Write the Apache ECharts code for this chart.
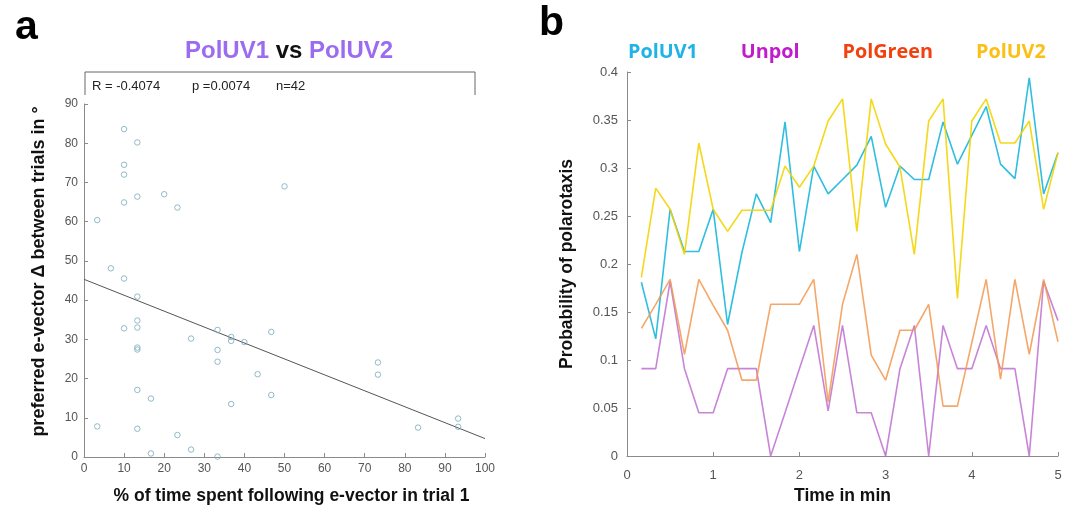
<!DOCTYPE html>
<html>
<head>
<meta charset="utf-8">
<script src="https://cdn.jsdelivr.net/npm/echarts@6/dist/echarts.min.js"></script>
<style>
html,body{margin:0;padding:0;background:#fff;}
#chart{width:1072px;height:510px;}
</style>
</head>
<body>
<div id="chart"></div>
<script>
// ---- Panel a: scatter data (x = % time following e-vector in trial 1, y = delta in degrees)
var scatterX = [10, 13.3, 10, 10, 50, 20, 13.3, 10, 23.3, 3.3,
                6.7, 10, 13.3, 13.3, 10, 13.3, 13.3, 13.3, 26.7, 33.3,
                33.3, 33.3, 36.7, 36.7, 40, 46.7, 43.3, 46.7, 36.7, 73.3,
                73.3, 83.3, 93.3, 93.3, 13.3, 16.7, 3.3, 13.3, 23.3, 26.7,
                16.7, 33.3];
var scatterY = [83.6, 80.2, 74.5, 72, 69, 67, 66.4, 64.9, 63.6, 60.4,
                48.1, 45.5, 40.9, 34.8, 32.8, 33.0, 27.9, 27.4, 30.2, 32.4,
                27.3, 24.3, 30.6, 29.6, 29.3, 31.9, 21.1, 15.8, 13.5, 24.1,
                21.0, 7.5, 9.8, 7.7, 17.1, 14.9, 7.8, 7.2, 5.6, 1.9,
                0.9, 0.1];
var fitX = [0, 100];
var fitY = [45.3, 4.7];
var statsText = ['R = -0.4074', 'p =0.0074', 'n=42'];

// ---- Panel b: time series (probability of polarotaxis)
var timeMin = [0.1667, 0.3333, 0.5, 0.6667, 0.8333, 1.0, 1.1667, 1.3333, 1.5, 1.6667,
               1.8333, 2.0, 2.1667, 2.3333, 2.5, 2.6667, 2.8333, 3.0, 3.1667, 3.3333,
               3.5, 3.6667, 3.8333, 4.0, 4.1667, 4.3333, 4.5, 4.6667, 4.8333, 5.0];
var polUV1 = [0.181, 0.122, 0.257, 0.213, 0.213, 0.257, 0.137, 0.212, 0.273, 0.243,
              0.348, 0.213, 0.302, 0.273, 0.288, 0.303, 0.333, 0.259, 0.302, 0.288,
              0.288, 0.348, 0.304, 0.334, 0.364, 0.304, 0.289, 0.394, 0.273, 0.316];
var unpol = [0.091, 0.091, 0.182, 0.091, 0.045, 0.045, 0.091, 0.091, 0.091, 0.0,
             0.045, 0.091, 0.136, 0.047, 0.136, 0.045, 0.045, 0.0, 0.091, 0.136,
             0.0, 0.136, 0.091, 0.091, 0.136, 0.091, 0.091, 0.0, 0.182, 0.141];
var polGreen = [0.133, 0.158, 0.184, 0.106, 0.184, 0.157, 0.131, 0.079, 0.079, 0.158,
                0.158, 0.158, 0.184, 0.056, 0.158, 0.210, 0.105, 0.079, 0.131, 0.131,
                0.158, 0.052, 0.052, 0.118, 0.184, 0.080, 0.184, 0.106, 0.184, 0.119];
var polUV2 = [0.186, 0.279, 0.257, 0.210, 0.326, 0.257, 0.234, 0.256, 0.256, 0.256,
              0.302, 0.280, 0.302, 0.349, 0.372, 0.234, 0.372, 0.325, 0.301, 0.210,
              0.349, 0.372, 0.164, 0.349, 0.372, 0.326, 0.326, 0.349, 0.257, 0.316];
var seriesNames = ['PolUV1', 'Unpol', 'PolGreen', 'PolUV2'];
var titleParts = ['PolUV1', 'vs', 'PolUV2'];

function pairs(xs, ys) { return xs.map(function (x, i) { return [x, ys[i]]; }); }

var axisGray = '#8a8a8a';
var tickLabelStyle = { color: '#555', fontSize: 12, fontFamily: 'Liberation Sans' };
var nameStyle = { color: '#111', fontSize: 17.5, fontWeight: 'bold', fontFamily: 'Liberation Sans' };
var legendColors = ['#1fb3e6', '#c11ccb', '#f2400f', '#fbbf16'];

var chart = echarts.init(document.getElementById('chart'), null, { renderer: 'canvas' });

var option = {
  backgroundColor: '#fff',
  animation: false,
  title: {
    text: '{p|' + titleParts[0] + '} {k|' + titleParts[1] + '} {p|' + titleParts[2] + '}',
    left: 180, top: 34,
    textStyle: {
      fontSize: 24, fontWeight: 'bold', fontFamily: 'Liberation Sans',
      rich: {
        p: { fontSize: 24, fontWeight: 'bold', fontFamily: 'Liberation Sans', color: '#9b6bf0' },
        k: { fontSize: 24, fontWeight: 'bold', fontFamily: 'Liberation Sans', color: '#111' }
      }
    }
  },
  grid: [
    { left: 84, top: 104, width: 401, height: 355 },
    { left: 627, top: 72, width: 431, height: 386 }
  ],
  legend: {
    data: seriesNames.map(function (n, i) { return { name: n, textStyle: { color: legendColors[i] } }; }),
    left: 623, top: 42, width: 445, padding: 0,
    orient: 'horizontal',
    itemWidth: 0, itemHeight: 0, itemGap: 38,
    icon: 'rect',
    selectedMode: false,
    textStyle: { fontSize: 19.8, fontWeight: 'bold', fontFamily: 'Open Sans' }
  },
  xAxis: [
    {
      gridIndex: 0, type: 'value', min: 0, max: 100, interval: 10,
      name: '% of time spent following e-vector in trial 1',
      nameLocation: 'middle', nameGap: 30,
      nameTextStyle: Object.assign({}, nameStyle, { padding: [0, 0, 0, 14] }),
      axisLine: { lineStyle: { color: axisGray } },
      axisTick: { inside: true, length: 4, lineStyle: { color: axisGray } },
      axisLabel: Object.assign({ margin: 6 }, tickLabelStyle),
      splitLine: { show: false }
    },
    {
      gridIndex: 1, type: 'value', min: 0, max: 5, interval: 1,
      name: 'Time in min',
      nameLocation: 'middle', nameGap: 31, nameTextStyle: nameStyle,
      axisLine: { lineStyle: { color: axisGray } },
      axisTick: { inside: true, length: 4, lineStyle: { color: axisGray } },
      axisLabel: Object.assign({ margin: 13 }, tickLabelStyle, { fontSize: 13 }),
      splitLine: { show: false }
    }
  ],
  yAxis: [
    {
      gridIndex: 0, type: 'value', min: 0, max: 90, interval: 10,
      name: 'preferred e-vector \u0394 between trials in \u00b0',
      nameLocation: 'middle', nameGap: 36, nameRotate: 90,
      nameTextStyle: Object.assign({}, nameStyle, { fontSize: 18, padding: [0, 0, 0, 18] }),
      axisLine: { show: true, lineStyle: { color: axisGray } },
      axisTick: { show: true, inside: true, length: 4, lineStyle: { color: axisGray } },
      axisLabel: Object.assign({ margin: 6 }, tickLabelStyle),
      splitLine: { show: false }
    },
    {
      gridIndex: 1, type: 'value', min: 0, max: 0.4, interval: 0.05,
      name: 'Probability of polarotaxis',
      nameLocation: 'middle', nameGap: 51, nameRotate: 90,
      nameTextStyle: nameStyle,
      axisLine: { show: true, lineStyle: { color: axisGray } },
      axisTick: { show: true, inside: true, length: 4, lineStyle: { color: axisGray } },
      axisLabel: Object.assign({ margin: 9 }, tickLabelStyle, { fontSize: 13 }),
      splitLine: { show: false }
    }
  ],
  series: [
    {
      name: 'scatter', type: 'scatter', xAxisIndex: 0, yAxisIndex: 0,
      data: pairs(scatterX, scatterY),
      symbol: 'circle', symbolSize: 5.5,
      itemStyle: { color: 'rgba(255,255,255,0)', borderColor: '#78a9bb', borderWidth: 1 },
      z: 3
    },
    {
      name: 'fit', type: 'line', xAxisIndex: 0, yAxisIndex: 0,
      data: pairs(fitX, fitY), showSymbol: false,
      lineStyle: { color: '#555', width: 1 }, z: 2
    },
    {
      name: 'PolUV1', type: 'line', xAxisIndex: 1, yAxisIndex: 1,
      data: pairs(timeMin, polUV1), showSymbol: false, color: '#2fbee0',
      lineStyle: { color: '#2fbee0', width: 1.6 }
    },
    {
      name: 'Unpol', type: 'line', xAxisIndex: 1, yAxisIndex: 1,
      data: pairs(timeMin, unpol), showSymbol: false, color: '#c77bd6',
      lineStyle: { color: '#c278d4', width: 1.6, opacity: 0.9 }
    },
    {
      name: 'PolGreen', type: 'line', xAxisIndex: 1, yAxisIndex: 1,
      data: pairs(timeMin, polGreen), showSymbol: false, color: '#f29a5a',
      lineStyle: { color: '#f2984f', width: 1.6, opacity: 0.85 }
    },
    {
      name: 'PolUV2', type: 'line', xAxisIndex: 1, yAxisIndex: 1,
      data: pairs(timeMin, polUV2), showSymbol: false, color: '#f2d300',
      lineStyle: { color: '#f3d400', width: 1.6, opacity: 0.9 }
    }
  ],
  graphic: [
    { type: 'text', x: 15, y: 7, style: { text: 'a', fontSize: 41, fontWeight: 'bold', fontFamily: 'Liberation Sans', fill: '#000' } },
    { type: 'text', x: 539, y: 3, style: { text: 'b', fontSize: 41, fontWeight: 'bold', fontFamily: 'Liberation Sans', fill: '#000' } },
    {
      type: 'polyline', shape: { points: [[85, 95], [85, 72], [475, 72], [475, 95]] },
      style: { stroke: '#666', lineWidth: 1, fill: null }, silent: true
    },
    { type: 'text', x: 92, y: 86, style: { text: statsText[0], fontSize: 13, fontFamily: 'Liberation Sans', fill: '#222', verticalAlign: 'middle' } },
    { type: 'text', x: 192, y: 86, style: { text: statsText[1], fontSize: 13, fontFamily: 'Liberation Sans', fill: '#222', verticalAlign: 'middle' } },
    { type: 'text', x: 276, y: 86, style: { text: statsText[2], fontSize: 13, fontFamily: 'Liberation Sans', fill: '#222', verticalAlign: 'middle' } }
  ]
};
chart.setOption(option);
</script>
</body>
</html>
